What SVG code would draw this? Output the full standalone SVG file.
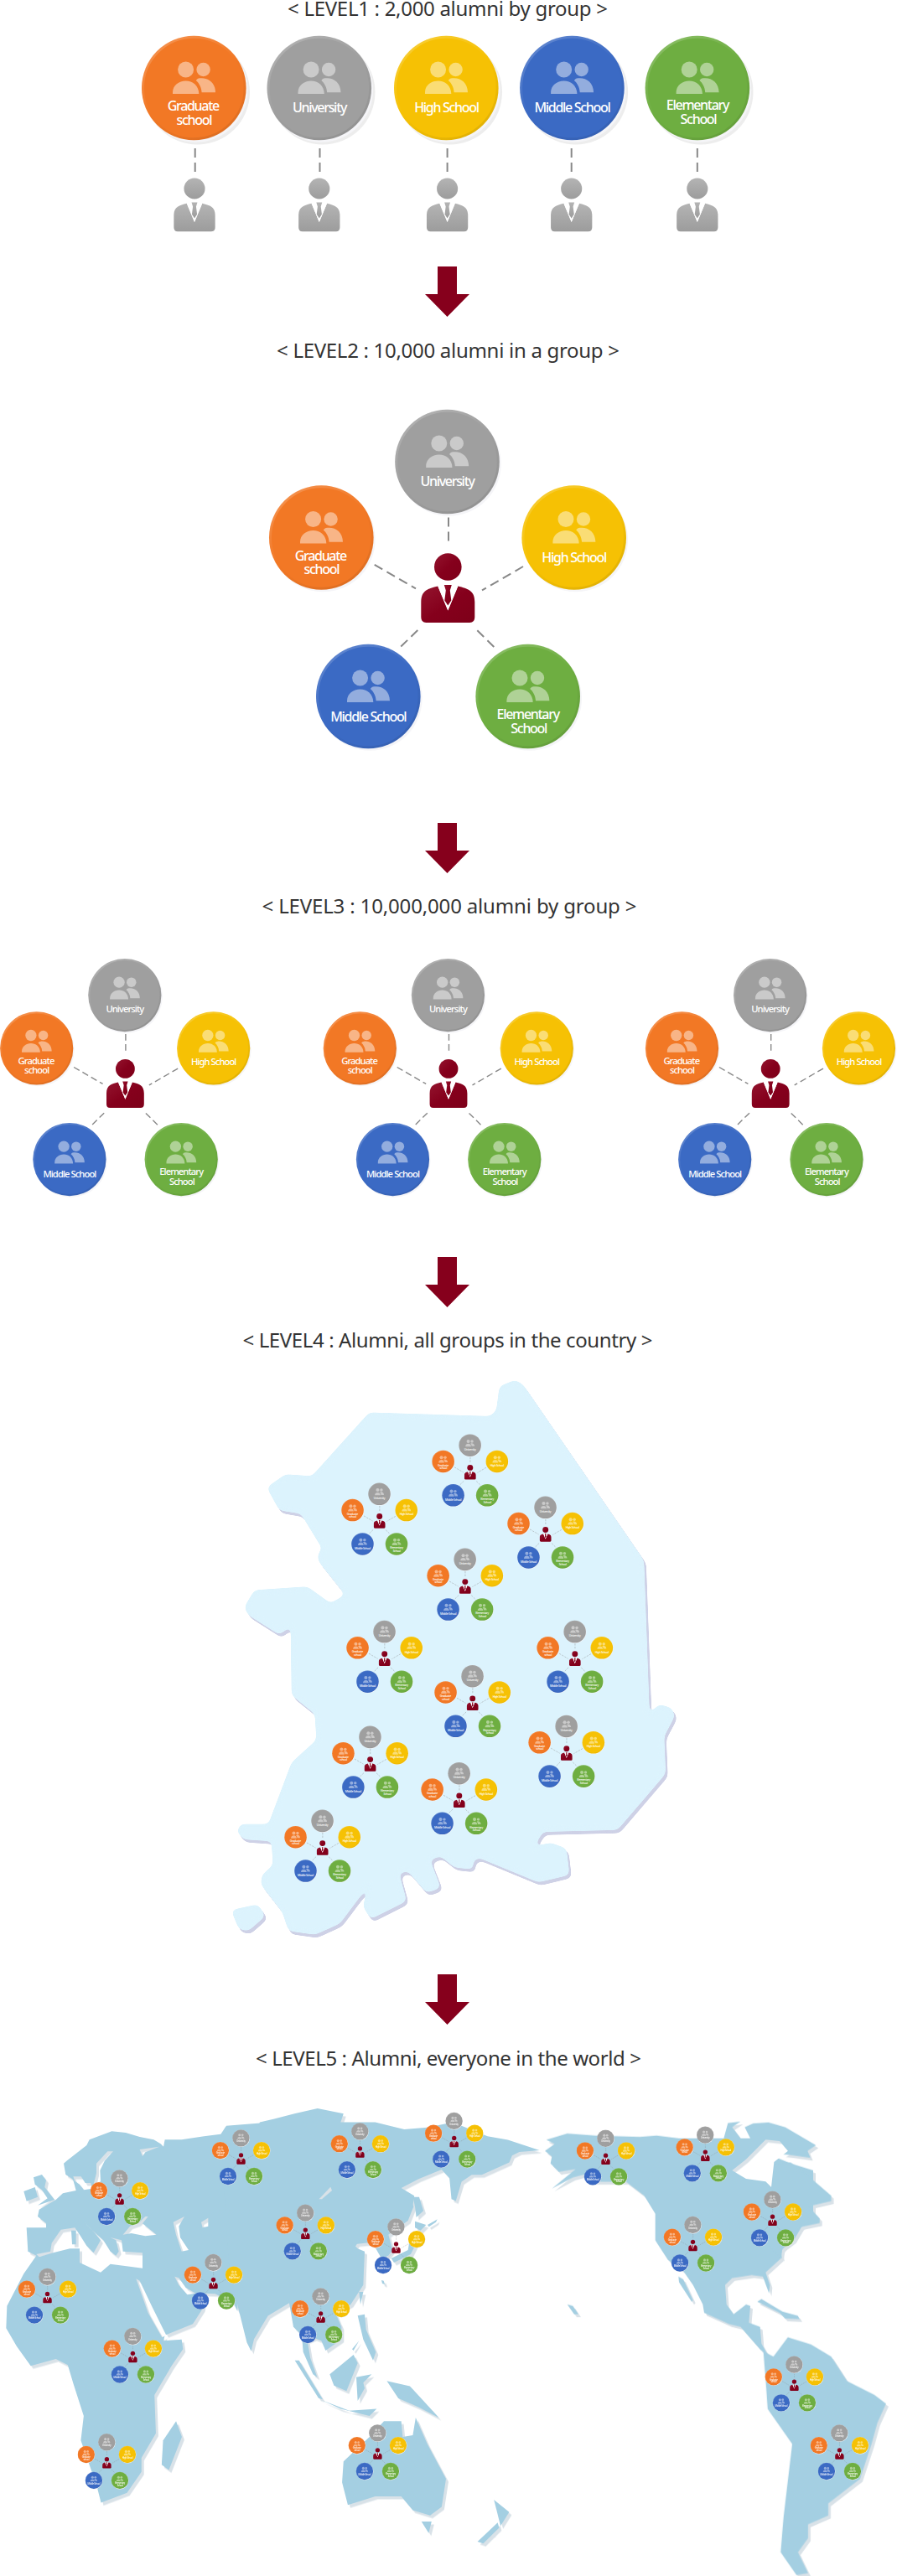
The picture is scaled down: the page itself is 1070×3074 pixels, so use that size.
<svg xmlns="http://www.w3.org/2000/svg" width="1070" height="3074" viewBox="0 0 1070 3074">
<style>
text{font-family:"Noto Sans","Open Sans","Liberation Sans",sans-serif}
.title{font-size:24px;fill:#333;text-anchor:middle}
.lbl{font-size:16px;font-weight:500;fill:#fff;text-anchor:middle;letter-spacing:-1.3px}
.dash{stroke:#888;stroke-width:2;stroke-dasharray:11 6;fill:none}
.ico{fill:#fff;fill-opacity:.45}
.edge{fill:none;stroke:url(#edge);stroke-width:3}
</style>
<defs>
<linearGradient id="edge" x1="0.15" y1="0" x2="0.8" y2="1"><stop offset="0" stop-color="#fff" stop-opacity=".2"/><stop offset=".5" stop-color="#fff" stop-opacity="0"/><stop offset=".5" stop-color="#000" stop-opacity="0"/><stop offset="1" stop-color="#000" stop-opacity=".09"/></linearGradient>
<linearGradient id="gp" x1="0" y1="0" x2="0" y2="1"><stop offset="0" stop-color="#b4b4b4"/><stop offset="1" stop-color="#9c9c9c"/></linearGradient>
<linearGradient id="mp" x1="0" y1="0" x2="1" y2="1"><stop offset="0" stop-color="#93142e"/><stop offset=".5" stop-color="#85001c"/><stop offset="1" stop-color="#7e0019"/></linearGradient>
<filter id="goo" x="-5%" y="-5%" width="110%" height="110%" color-interpolation-filters="sRGB"><feGaussianBlur stdDeviation="8"/><feColorMatrix values="1 0 0 0 0 0 1 0 0 0 0 0 1 0 0 0 0 0 14 -6"/><feGaussianBlur stdDeviation="1"/></filter>
<filter id="soft" x="-2%" y="-2%" width="104%" height="104%"><feGaussianBlur stdDeviation=".6"/></filter>
<g id="icon" class="ico">
<circle cx="-9.7" cy="-22" r="9.5"/><circle cx="11.3" cy="-22" r="8.2"/>
<path d="M-25.3,7V5C-25.3,-3 -18,-8.6 -9.7,-8.6C-1.5,-8.6 5.8,-3 6,7Z"/>
<path d="M7,-11.7C16,-13 25.7,-7 25.7,5.2H9.3C9,-1 6,-6 2.5,-9C3.5,-10.5 5,-11.5 7,-11.7Z"/>
</g>
<g id="b-orange"><circle cx="2" cy="2.5" r="62.3" fill="#f5f5f8"/><circle r="62.3" fill="#f27825"/><circle r="60.8" class="edge"/><use href="#icon"/></g>
<g id="b-gray"><circle cx="2" cy="2.5" r="62.3" fill="#f5f5f8"/><circle r="62.3" fill="#9f9f9f"/><circle r="60.8" class="edge"/><use href="#icon"/></g>
<g id="b-yellow"><circle cx="2" cy="2.5" r="62.3" fill="#f5f5f8"/><circle r="62.3" fill="#f6c104"/><circle r="60.8" class="edge"/><use href="#icon"/></g>
<g id="b-blue"><circle cx="2" cy="2.5" r="62.3" fill="#f5f5f8"/><circle r="62.3" fill="#3b6ac4"/><circle r="60.8" class="edge"/><use href="#icon"/></g>
<g id="b-green"><circle cx="2" cy="2.5" r="62.3" fill="#f5f5f8"/><circle r="62.3" fill="#6eae41"/><circle r="60.8" class="edge"/><use href="#icon"/></g>
<g id="person">
<circle r="16.3"/>
<path d="M-12,23C-24,26 -32,28 -32,42V60Q-32,66.5 -26,66.5H26Q32,66.5 32,60V42C32,28 24,26 12,23L0,52Z"/>
<path d="M-12,23L0,52L12,23L9,21.5H-9Z" fill="#fff"/>
<path d="M-4.5,21.5H4.5L2.5,28L4,40L0,46L-4,40L-2.5,28Z"/>
</g>
<path id="arrow" d="M-11.5,0H11.5V33H26.5L0,60L-26.5,33H-11.5Z" fill="#86001c"/>
<g id="spokes" class="dash">
<path d="M0.7,-59V-26.5"/><path d="M-87.6,-2.7L-38.3,25.8"/><path d="M89.7,-0.5L40.7,27.9"/><path d="M-36,75.5L-59.3,98.2"/><path d="M35,75.8L58.4,98.8"/>
</g>
<g id="cluster">
<use href="#spokes"/>
<use href="#person" fill="url(#mp)"/>
<g transform="translate(-151,-35)"><use href="#b-orange"/><text class="lbl"><tspan x="-1" y="27">Graduate</tspan><tspan x="0" y="43.5">school</tspan></text></g>
<g transform="translate(-0.8,-125.5)"><use href="#b-gray"/><text class="lbl" y="29">University</text></g>
<g transform="translate(150.4,-35)"><use href="#b-yellow"/><text class="lbl" y="29">High School</text></g>
<g transform="translate(-95,154.5)"><use href="#b-blue"/><text class="lbl" y="30">Middle School</text></g>
<g transform="translate(95.4,154.5)"><use href="#b-green"/><text class="lbl"><tspan x="0" y="27">Elementary</tspan><tspan x="1" y="43.5">School</tspan></text></g>
</g>
<g id="korea">
<path d="M935,55L985,38L1010,50L1400,520L1418,930L1450,905L1490,915L1500,935L1465,990L1470,1090L1315,1240L1075,1245L1045,1285L1100,1275L1150,1290L1160,1360L1060,1380L870,1315L850,1320L850,1345L790,1340L745,1310L710,1320L745,1395L700,1408L640,1350L610,1355L635,1430L520,1478L495,1445L515,1385L420,1490L340,1520L255,1510L235,1460L165,1385L170,1360L205,1335L200,1270L110,1265L88,1245L100,1225L190,1225L265,1060L345,1000L340,930L265,880L262,695L225,718L125,665L112,645L145,600L315,590L390,635L438,612L350,520L350,500L365,490L295,395L225,385L185,325L245,290L330,295L515,125L905,135L925,120Z"/>
<path d="M70,1455L155,1440L180,1470L125,1510L95,1505Z"/>
</g>
<mask id="seamask" maskUnits="userSpaceOnUse" x="0" y="2420" width="1070" height="654">
<rect x="0" y="2420" width="1070" height="654" fill="#fff"/>
<g fill="#000" transform="translate(0,2510) scale(.33333)">
<path d="M405,172L385,172L345,215L345,250L335,290L360,280L358,240L375,205Z"/>
<path d="M262,262L290,262L305,285L325,285L330,305L300,310L285,290L268,278Z"/>
<path d="M500,165L570,155L520,175L510,190Z"/>
<path d="M440,470L465,440L495,430L520,405L530,405L510,430L560,470L520,475L470,465Z"/>
<path d="M620,425L660,405L640,440L645,480L675,525L650,530L630,470Z"/>
<path d="M720,425L745,410L745,440L725,445Z"/>
<path d="M130,540L180,530L185,500L218,452L268,445L285,470L310,510L330,530L335,535L352,505L360,490L340,465L302,425L325,450L370,490L395,530L415,545L425,530L415,490L395,480L435,490L440,530L510,535L510,590L395,575L360,605L285,570L285,520L250,520L190,535L140,550Z"/>
<path d="M625,620L640,625L665,660L700,680L670,685L640,650Z"/>
<path d="M487,628L500,635L545,730L595,830L580,838L530,750Z"/>
<path d="M255,455L272,455L272,505L258,505Z" fill="#fff"/>
</g>
<path fill="#000" transform="translate(0,2420) scale(.34435,.41708)" d="M1105,490L1145,455L1150,465L1115,490Z"/>
<path fill="#000" transform="translate(650,2510) scale(.33333)" d="M670,240L720,200L790,130L840,135L870,170L820,210L810,300L790,280L720,270Z"/>
</mask>
<g id="land" mask="url(#seamask)">
<g transform="translate(0,2510) scale(.33333)">
<path d="M95,445L165,445L165,430L135,405L140,380L200,345L225,322L272,312L262,275L258,270L235,255L228,215L240,205L310,150L320,130L400,100L450,105L500,120L550,130L575,145L585,155L590,130L650,130L730,118L790,110L810,80L960,68L960,500L850,700L850,745L835,715L770,682L735,680L725,735L690,790L590,830L585,850L650,845L655,880L600,960L280,960L240,935L200,915L110,940L60,870L22,805L25,725L85,610L130,545L100,530Z"/>
<path d="M120,265L150,255L165,275L160,300L195,345L135,365L170,340L150,310L125,290Z"/>
<path d="M85,315L125,300L135,335L95,350Z"/>
</g>
<g transform="translate(0,2420) scale(.34435,.41708)">
<path d="M765,315L780,285L890,290L900,270L950,260L1020,245L1100,230L1190,245L1180,270L1300,270L1400,290L1480,285L1568,270L1689,310L1759,320L1869,350L1799,355L1774,365L1764,385L1669,420L1634,420L1599,440L1579,495L1564,490L1557,430L1530,405L1450,432L1390,458L1435,480L1430,510L1310,590L1250,600L1100,800L960,780L880,890L870,925L855,900L825,800L795,700Z"/>
<path d="M632,905L585,980L535,1050L540,1160L490,1230L490,1270L440,1330L350,1358L335,1310L280,1180L290,1110L255,1020L235,965L300,900L500,900Z"/>
<path d="M1115,1065L1210,1095L1305,1090L1280,1110L1180,1090Z"/>
<path d="M1340,1010L1420,1025L1520,1115L1450,1085L1380,1060Z"/>
<path d="M610,1125L630,1170L585,1265L560,1250L565,1180Z"/>
<path d="M1190,1240L1280,1170L1330,1125L1390,1125L1395,1170L1430,1165L1440,1115L1480,1190L1545,1290L1530,1370L1490,1395L1430,1380L1390,1340L1300,1340L1205,1365L1185,1300Z"/>
<path d="M1460,1412L1495,1412L1485,1445Z"/>
<path d="M1711,1350L1764,1385L1734,1425Z"/><path d="M1654,1470L1724,1415L1729,1430L1674,1475Z"/>
</g>
<g transform="translate(320,2620) scale(.33333)">
<path d="M505,0L520,40L500,90L430,140L395,168L365,168L305,175L320,190L345,200L342,270L340,320L295,390L240,420L262,470L262,515L205,555L190,520L165,510L140,520L150,580L175,650L160,640L125,560L120,500L90,470L75,385L0,430L0,0Z"/>
<path d="M395,165L430,140L445,195L430,215L405,225L385,190Z"/>
<path d="M505,165L530,130L540,150L510,210L450,240L440,225L500,195Z"/>
<path d="M525,92L565,105L545,125L525,115Z"/><path d="M570,105L605,85L600,95L575,112Z"/>
<path d="M405,303L413,305L417,318L408,315Z"/><path d="M518,5L540,5L555,55L530,78L525,40Z"/>
<path d="M325,345L340,345L330,390Z"/>
<path d="M320,430L345,425L350,480L385,560L375,590L340,515Z"/><path d="M300,550L325,520L305,555Z"/>
<path d="M220,640L305,570L320,600L280,700L235,680Z"/>
<path d="M315,650L370,640L340,670L345,690L320,735Z"/>
<path d="M95,590L110,590L195,730L180,725Z"/>
</g>
<g transform="translate(650,2510) scale(.33333)">
<path d="M5,130L80,108L180,115L340,120L400,115L480,125L640,125L655,70L700,65L670,85L700,125L735,125L715,85L745,72L800,68L860,85L970,150L940,170L950,195L880,185L825,180L820,190L880,215L960,240L960,400L920,440L890,490L850,520L845,555L790,605L805,650L802,680L780,620L740,615L670,625L645,650L650,720L675,755L720,720L735,725L730,785L770,800L775,860L800,905L770,880L700,800L660,790L570,750L565,720L530,650L495,600L440,560L395,490L395,395L355,330L290,280L170,280L140,255L100,265L25,305L110,235L50,245L20,215L25,190L0,170L35,145Z"/>
<path d="M478,620L495,630L530,705L525,710L480,640Z"/>
<path d="M760,710L775,700L850,745L905,760L912,772L860,770L840,750Z"/>
<path d="M80,720L100,725L120,755L105,755Z"/>
</g>
<g transform="translate(530,2420) scale(.34435,.41708)">
<path d="M1150,390L1200,385L1270,430L1340,480L1340,495L1262,510L1300,545L1300,558L1230,570L1165,640L1170,660L1100,600L1100,450Z"/>
<path d="M1105,925L1140,940L1190,885L1270,905L1340,940L1395,1010L1490,1050L1530,1075L1500,1130L1480,1190L1440,1290L1330,1360L1330,1395L1260,1420L1260,1460L1225,1500L1260,1560L1220,1565L1165,1500L1175,1400L1205,1190L1120,1090L1115,1030Z"/>
</g>
</g>
</defs>

<rect width="1070" height="3074" fill="#fff"/>

<text class="title" x="534" y="18.5" textLength="382" id="t-level1">&lt; LEVEL1 : 2,000 alumni by group &gt;</text>
<g id="connectors-level1" class="dash">
<path d="M232.7,177V207"/><path d="M381.5,177V207"/><path d="M533.6,177V207"/><path d="M681.7,177V207"/><path d="M831.8,177V207"/>
</g>
<g id="level1-graduate"><circle cx="235.5" cy="110" r="62.5" fill="#ededed"/><use href="#b-orange" x="231.3" y="105"/><text class="lbl"><tspan x="230.3" y="132">Graduate</tspan><tspan x="231.3" y="149">school</tspan></text></g>
<g id="level1-university"><circle cx="385" cy="110" r="62.5" fill="#ededed"/><use href="#b-gray" x="380.8" y="105"/><text class="lbl" x="381" y="134">University</text></g>
<g id="level1-high"><circle cx="536.5" cy="110" r="62.5" fill="#ededed"/><use href="#b-yellow" x="532.3" y="105"/><text class="lbl" x="532.5" y="134">High School</text></g>
<g id="level1-middle"><circle cx="686.6" cy="110" r="62.5" fill="#ededed"/><use href="#b-blue" x="682.4" y="105"/><text class="lbl" x="682.5" y="134">Middle School</text></g>
<g id="level1-elementary"><circle cx="836" cy="110" r="62.5" fill="#ededed"/><use href="#b-green" x="831.9" y="105"/><text class="lbl"><tspan x="832" y="131">Elementary</tspan><tspan x="833" y="147.5">School</tspan></text></g>
<g id="level1-person1"><use href="#person" fill="url(#gp)" transform="translate(232,225) scale(.77)"/></g>
<g id="level1-person2"><use href="#person" fill="url(#gp)" transform="translate(380.8,225) scale(.77)"/></g>
<g id="level1-person3"><use href="#person" fill="url(#gp)" transform="translate(533.6,225) scale(.77)"/></g>
<g id="level1-person4"><use href="#person" fill="url(#gp)" transform="translate(681.7,225) scale(.77)"/></g>
<g id="level1-person5"><use href="#person" fill="url(#gp)" transform="translate(831.8,225) scale(.77)"/></g>

<use id="arrow1" href="#arrow" x="533.5" y="318"/>

<text class="title" x="534.5" y="427" textLength="409" id="t-level2">&lt; LEVEL2 : 10,000 alumni in a group &gt;</text>
<g id="level2" transform="translate(534.3,676.5)">
<g id="connectors-level2"><use href="#spokes"/></g>
<g id="level2-person"><use href="#person" fill="url(#mp)"/></g>
<g id="level2-graduate" transform="translate(-151,-35)"><use href="#b-orange"/><text class="lbl"><tspan x="-1" y="27">Graduate</tspan><tspan x="0" y="43.5">school</tspan></text></g>
<g id="level2-university" transform="translate(-0.8,-125.5)"><use href="#b-gray"/><text class="lbl" y="29">University</text></g>
<g id="level2-high" transform="translate(150.4,-35)"><use href="#b-yellow"/><text class="lbl" y="29">High School</text></g>
<g id="level2-middle" transform="translate(-95,154.5)"><use href="#b-blue"/><text class="lbl" y="30">Middle School</text></g>
<g id="level2-elementary" transform="translate(95.4,154.5)"><use href="#b-green"/><text class="lbl"><tspan x="0" y="27">Elementary</tspan><tspan x="1" y="43.5">School</tspan></text></g>
</g>

<use id="arrow2" href="#arrow" x="533.5" y="982"/>

<text class="title" x="536" y="1090" textLength="447" id="t-level3">&lt; LEVEL3 : 10,000,000 alumni by group &gt;</text>
<g id="level3-a" transform="translate(149.4,1275.4) scale(.7)">
<g id="connectors-level3-a"><use href="#spokes"/></g>
<g id="level3-a-person"><use href="#person" fill="url(#mp)"/></g>
<g id="level3-a-graduate" transform="translate(-151,-35)"><use href="#b-orange"/><text class="lbl"><tspan x="-1" y="27">Graduate</tspan><tspan x="0" y="43.5">school</tspan></text></g>
<g id="level3-a-university" transform="translate(-0.8,-125.5)"><use href="#b-gray"/><text class="lbl" y="29">University</text></g>
<g id="level3-a-high" transform="translate(150.4,-35)"><use href="#b-yellow"/><text class="lbl" y="29">High School</text></g>
<g id="level3-a-middle" transform="translate(-95,154.5)"><use href="#b-blue"/><text class="lbl" y="30">Middle School</text></g>
<g id="level3-a-elementary" transform="translate(95.4,154.5)"><use href="#b-green"/><text class="lbl"><tspan x="0" y="27">Elementary</tspan><tspan x="1" y="43.5">School</tspan></text></g>
</g>
<g id="level3-b" transform="translate(535,1275.4) scale(.7)">
<g id="connectors-level3-b"><use href="#spokes"/></g>
<g id="level3-b-person"><use href="#person" fill="url(#mp)"/></g>
<g id="level3-b-graduate" transform="translate(-151,-35)"><use href="#b-orange"/><text class="lbl"><tspan x="-1" y="27">Graduate</tspan><tspan x="0" y="43.5">school</tspan></text></g>
<g id="level3-b-university" transform="translate(-0.8,-125.5)"><use href="#b-gray"/><text class="lbl" y="29">University</text></g>
<g id="level3-b-high" transform="translate(150.4,-35)"><use href="#b-yellow"/><text class="lbl" y="29">High School</text></g>
<g id="level3-b-middle" transform="translate(-95,154.5)"><use href="#b-blue"/><text class="lbl" y="30">Middle School</text></g>
<g id="level3-b-elementary" transform="translate(95.4,154.5)"><use href="#b-green"/><text class="lbl"><tspan x="0" y="27">Elementary</tspan><tspan x="1" y="43.5">School</tspan></text></g>
</g>
<g id="level3-c" transform="translate(919.2,1275.4) scale(.7)">
<g id="connectors-level3-c"><use href="#spokes"/></g>
<g id="level3-c-person"><use href="#person" fill="url(#mp)"/></g>
<g id="level3-c-graduate" transform="translate(-151,-35)"><use href="#b-orange"/><text class="lbl"><tspan x="-1" y="27">Graduate</tspan><tspan x="0" y="43.5">school</tspan></text></g>
<g id="level3-c-university" transform="translate(-0.8,-125.5)"><use href="#b-gray"/><text class="lbl" y="29">University</text></g>
<g id="level3-c-high" transform="translate(150.4,-35)"><use href="#b-yellow"/><text class="lbl" y="29">High School</text></g>
<g id="level3-c-middle" transform="translate(-95,154.5)"><use href="#b-blue"/><text class="lbl" y="30">Middle School</text></g>
<g id="level3-c-elementary" transform="translate(95.4,154.5)"><use href="#b-green"/><text class="lbl"><tspan x="0" y="27">Elementary</tspan><tspan x="1" y="43.5">School</tspan></text></g>
</g>

<use id="arrow3" href="#arrow" x="533.5" y="1500"/>

<text class="title" x="534" y="1608" textLength="489" id="t-level4">&lt; LEVEL4 : Alumni, all groups in the country &gt;</text>
<g id="korea-map" transform="translate(250,1630) scale(.36996,.44643)">
<use href="#korea" fill="#ced1e6" x="7" y="8" filter="url(#goo)"/>
<use href="#korea" fill="#dcf3fd" filter="url(#goo)"/>
</g>
<g id="korea-clusters">
<use id="kr1" href="#cluster" transform="translate(560.8,1751.4) scale(.213)"/>
<use id="kr2" href="#cluster" transform="translate(452.7,1809.5) scale(.213)"/>
<use id="kr3" href="#cluster" transform="translate(650.7,1825.5) scale(.213)"/>
<use id="kr4" href="#cluster" transform="translate(554.8,1887.6) scale(.213)"/>
<use id="kr5" href="#cluster" transform="translate(458.7,1973.8) scale(.213)"/>
<use id="kr6" href="#cluster" transform="translate(685.8,1973.8) scale(.213)"/>
<use id="kr7" href="#cluster" transform="translate(563.7,2026.9) scale(.213)"/>
<use id="kr8" href="#cluster" transform="translate(441.6,2099.6) scale(.213)"/>
<use id="kr9" href="#cluster" transform="translate(675.8,2086.7) scale(.213)"/>
<use id="kr10" href="#cluster" transform="translate(547.8,2142.9) scale(.213)"/>
<use id="kr11" href="#cluster" transform="translate(384.7,2199.6) scale(.213)"/>
</g>

<use id="arrow4" href="#arrow" x="533.5" y="2356"/>

<text class="title" x="535" y="2464.6" textLength="460" id="t-level5">&lt; LEVEL5 : Alumni, everyone in the world &gt;</text>
<g id="world-map" filter="url(#soft)">
<use href="#land" fill="#d9e2e8" x="3" y="3.5"/>
<use href="#land" fill="#a4cfe2"/>
</g>
<g id="world-clusters">
<use id="w1" href="#cluster" transform="translate(287.5,2571.8) scale(.163)"/>
<use id="w2" href="#cluster" transform="translate(429.4,2563.9) scale(.163)"/>
<use id="w3" href="#cluster" transform="translate(142.6,2619.8) scale(.163)"/>
<use id="w4" href="#cluster" transform="translate(364.3,2661.1) scale(.163)"/>
<use id="w5" href="#cluster" transform="translate(472.5,2677.8) scale(.163)"/>
<use id="w6" href="#cluster" transform="translate(254.5,2720.3) scale(.163)"/>
<use id="w7" href="#cluster" transform="translate(56.5,2737.4) scale(.163)"/>
<use id="w8" href="#cluster" transform="translate(382.6,2760.8) scale(.163)"/>
<use id="w9" href="#cluster" transform="translate(158.4,2808.3) scale(.163)"/>
<use id="w10" href="#cluster" transform="translate(127.4,2934.7) scale(.163)"/>
<use id="w11" href="#cluster" transform="translate(450.4,2923.8) scale(.163)"/>
<use id="w12" href="#cluster" transform="translate(541.7,2551.4) scale(.163)"/>
<use id="w13" href="#cluster" transform="translate(722.5,2572.2) scale(.163)"/>
<use id="w14" href="#cluster" transform="translate(841.3,2568.1) scale(.163)"/>
<use id="w15" href="#cluster" transform="translate(921.5,2645.2) scale(.163)"/>
<use id="w16" href="#cluster" transform="translate(826.5,2675.3) scale(.163)"/>
<use id="w17" href="#cluster" transform="translate(947.4,2842.1) scale(.163)"/>
<use id="w18" href="#cluster" transform="translate(1001.4,2923.8) scale(.163)"/>
</g>
</svg>
